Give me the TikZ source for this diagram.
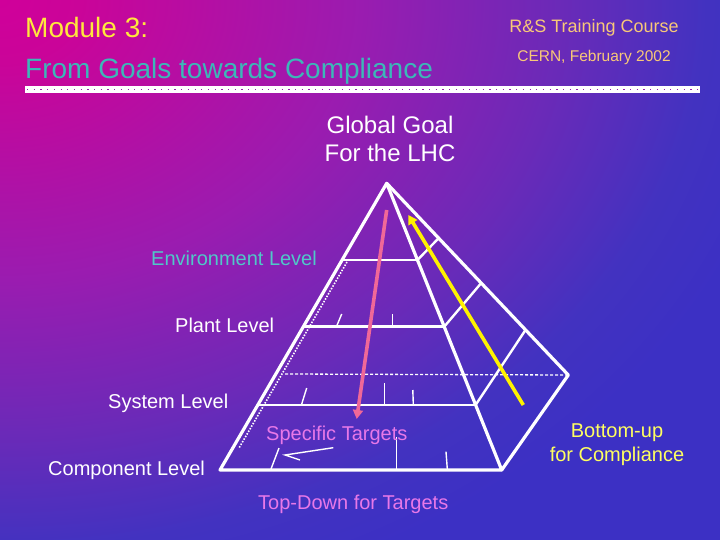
\documentclass[tikz,border=0pt]{standalone}
\usepackage{fontspec}
\setmainfont{Liberation Sans}
\usetikzlibrary{arrows.meta}
\definecolor{cA}{HTML}{D0009A}
\definecolor{cA2}{HTML}{CA0499}
\definecolor{cB}{HTML}{9A1CB0}
\definecolor{cC}{HTML}{6A2AB8}
\definecolor{cD}{HTML}{4232C0}
\definecolor{cE}{HTML}{3C30C4}
\definecolor{titleyellow}{HTML}{FFE83C}
\definecolor{titleteal}{HTML}{3CB8B8}
\definecolor{peach}{HTML}{F8C878}
\definecolor{envteal}{HTML}{50C8C8}
\definecolor{targetpink}{HTML}{E878E8}
\definecolor{arrowpink}{HTML}{F06898}
\definecolor{buyellow}{HTML}{FFFF60}
\pgfdeclareradialshading{bgshade}{\pgfpoint{0bp}{0bp}}{color(0bp)=(cA); color(5bp)=(cA2); color(22.5bp)=(cB); color(35bp)=(cC); color(44bp)=(cD); color(50bp)=(cE)}
\tikzset{
  edge/.style={draw=white, line width=3.2pt, line join=round, line cap=round},
  levelline/.style={draw=white, line width=2.8pt},
  facet/.style={draw=white, line width=2.4pt},
  tick/.style={draw=white, line width=1.4pt},
  backdash/.style={draw=white, line width=1.3pt, dash pattern=on 3pt off 2pt},
  backdot/.style={draw=white, line width=1.6pt, dash pattern=on 1.5pt off 1.5pt},
  lbl/.style={font=\fontsize{20}{24}\selectfont, inner sep=0pt, anchor=base west},
  ctr/.style={font=\fontsize{20}{24}\selectfont, inner sep=0pt, anchor=base},
  bigarrow/.style={line width=3.6pt, -{Triangle[length=9pt,width=10pt]}}
}
\begin{document}
\begin{tikzpicture}[x=1pt,y=-1pt]
\useasboundingbox (0,0) rectangle (720,540);
\fill[cE] (0,0) rectangle (720,540);
\begin{scope}
\clip (0,0) rectangle (720,540);
\pgftransformxscale{16}\pgftransformyscale{12.4}
\pgflowlevelsynccm
\pgfuseshading{bgshade}
\end{scope}
% header
\node[font=\fontsize{28}{32}\selectfont, text=titleyellow, inner sep=0pt, anchor=base west] (mod) at (25,38) {Module 3:};
\node[font=\fontsize{28}{32}\selectfont, text=titleteal, inner sep=0pt, anchor=base west] (goal) at (25,79) {From Goals towards Compliance};
\node[font=\fontsize{18}{22}\selectfont, text=peach, inner sep=0pt, anchor=base] (course) at (594,33) {R\&S Training Course};
\node[font=\fontsize{15.5}{19}\selectfont, text=peach, inner sep=0pt, anchor=base] (cern) at (594,62) {CERN, February 2002};
\fill[white] (25,86) rectangle (700,93);
\draw[cB, line width=1.2pt, dash pattern=on 1.2pt off 5.5pt] (27,89.5) -- (700,89.5);
% pyramid coordinates
\coordinate (apex) at (386.7,183.3);
\coordinate (bl) at (220,470);
\coordinate (br) at (501.7,470);
\coordinate (bk) at (568.3,375);
\coordinate (l1l) at (342.1,260);
\coordinate (l1r) at (417.5,260);
\coordinate (l1b) at (438.5,238.3);
\coordinate (l2l) at (303.3,326.7);
\coordinate (l2r) at (444.2,326.7);
\coordinate (l2b) at (481,283.3);
\coordinate (l3l) at (257.8,405);
\coordinate (l3r) at (475.6,405);
\coordinate (l3b) at (525.5,330);
\coordinate (dashl) at (285,374);
\coordinate (dot1) at (347,262);
\coordinate (dot2) at (239,448);
% back (hidden) lines
\draw[backdash] (dashl) -- (bk);
\draw[backdot] (dot1) -- (dot2);
% level lines and facets
\draw[levelline] (l1l) -- (l1r);
\draw[levelline] (l2l) -- (l2r);
\draw[levelline] (l3l) -- (l3r);
\draw[facet] (l1r) -- (l1b);
\draw[facet] (l2r) -- (l2b);
\draw[facet] (l3r) -- (l3b);
% outer edges
\draw[edge] (bl) -- (apex) -- (br) -- cycle;
\draw[edge] (apex) -- (bk) -- (br);
% ticks
\draw[tick] (336.7,326) -- (341.7,314);
\draw[tick] (392.3,326) -- (392.3,314);
\draw[tick] (301.7,404) -- (306.7,388);
\draw[tick] (384.3,404) -- (384.3,383);
\draw[tick] (413.3,404) -- (412.8,390);
\draw[tick] (271,469) -- (279,448);
\draw[tick] (396.7,469) -- (396.7,436.7);
\draw[tick] (447.3,469) -- (446,451.7);
\draw[tick] (333.3,447.7) -- (285,455) -- (300,460);
% arrows
\coordinate (pinkS) at (386.7,210);
\coordinate (pinkE) at (356.7,419);
\coordinate (yelS) at (523.3,405);
\coordinate (yelE) at (408.3,215);
\draw[bigarrow, arrowpink] (pinkS) -- (pinkE);
\draw[bigarrow, yellow] (yelS) -- (yelE);
% labels
\node[font=\fontsize{24}{28}\selectfont, text=white, inner sep=0pt, anchor=base] (gg1) at (390,134) {Global Goal};
\node[font=\fontsize{24}{28}\selectfont, text=white, inner sep=0pt, anchor=base] (gg2) at (390,162) {For the LHC};
\node[lbl, text=envteal] (env) at (151,265) {Environment Level};
\node[lbl, text=white] (plant) at (175,332) {Plant Level};
\node[lbl, text=white] (sys) at (108,408) {System Level};
\node[lbl, text=white] (comp) at (48,475) {Component Level};
\node[lbl, text=targetpink] (spec) at (266,440) {Specific Targets};
\node[lbl, text=targetpink] (td) at (258,509) {Top-Down for Targets};
\node[ctr, text=buyellow] (bu1) at (617,437) {Bottom-up};
\node[ctr, text=buyellow] (bu2) at (617,461) {for Compliance};
\end{tikzpicture}
\end{document}
